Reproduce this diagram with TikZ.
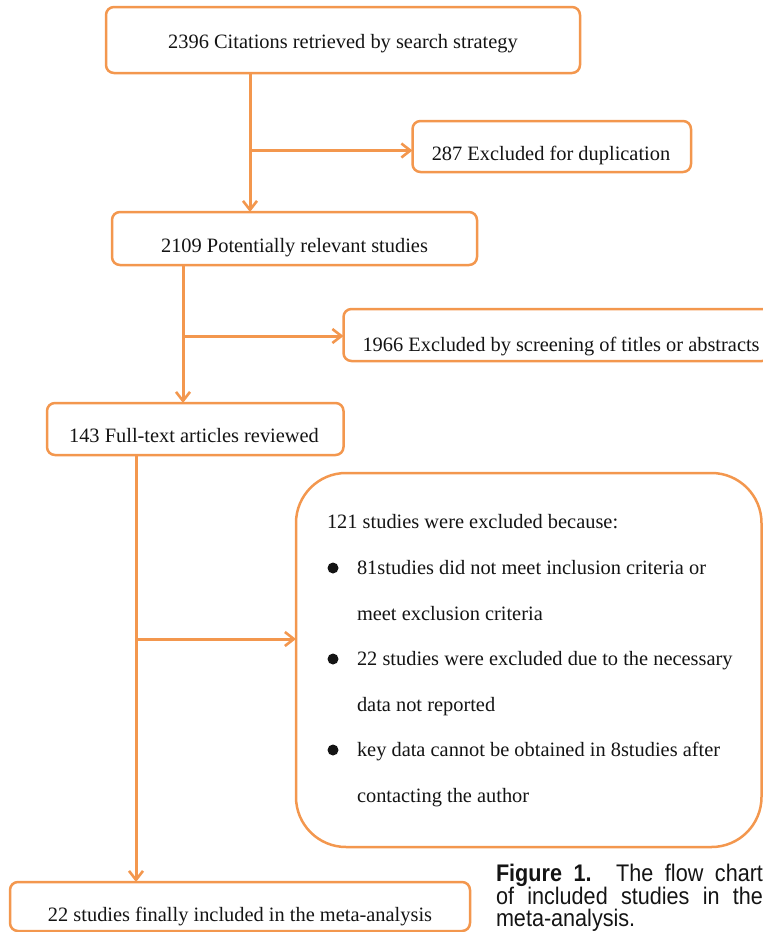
\documentclass[tikz,border=0pt]{standalone}
\usepackage{fontspec}
\setmainfont{Liberation Serif}
\newfontfamily\capfont[FakeStretch=0.9]{Liberation Sans}
\usetikzlibrary{arrows.meta}
\definecolor{org}{RGB}{243,151,78}
\definecolor{ink}{RGB}{20,20,20}
\tikzset{
  box/.style={draw=org, line width=2.5pt, rounded corners=8pt, inner sep=0pt, outer sep=0pt},
  lbl/.style={inner sep=0pt, outer sep=0pt, text=ink, font=\fontsize{20.4}{24}\selectfont},
  captxt/.style={inner sep=0pt, outer sep=0pt, text=ink, font=\capfont\fontsize{24}{24}\selectfont},
  conn/.style={draw=org, line width=3pt},
  arr/.style={conn, -{Straight Barb[length=9pt,width=14pt,line width=2.6pt]}},
  dot/.style={circle, fill=ink, inner sep=0pt, minimum size=11pt}
}
\begin{document}
\begin{tikzpicture}[x=1pt,y=-1pt]
\useasboundingbox (0,0) rectangle (763,932);
\clip (0,0) rectangle (763,932);
% boxes
\node[box, minimum width=474pt, minimum height=66pt] (b1) at (343,40) {};
\node[box, minimum width=278.5pt, minimum height=51pt] (b287) at (551.75,146.5) {};
\node[box, minimum width=365pt, minimum height=53pt] (b2) at (294.5,238.5) {};
\node[box, minimum width=426.5pt, minimum height=52pt] (b1966) at (556.75,335) {};
\node[box, minimum width=296.5pt, minimum height=52pt] (b3) at (195.25,429) {};
\node[box, rounded corners=50pt, minimum width=465.5pt, minimum height=374pt] (bbig) at (528.75,660) {};
\node[box, minimum width=460pt, minimum height=49pt] (b4) at (240,906.5) {};
% labels
\node[lbl, anchor=base] (t1) at (343,48) {2396 Citations retrieved by search strategy};
\node[lbl, anchor=base] (t287) at (551,160) {287 Excluded for duplication};
\node[lbl, anchor=base] (t2) at (294.5,252) {2109 Potentially relevant studies};
\node[lbl, anchor=base west] (t1966) at (362.5,351) {1966 Excluded by screening of titles or abstracts};
\node[lbl, anchor=base] (t3) at (194,442) {143 Full-text articles reviewed};
\node[lbl, anchor=base] (t4) at (240,921) {22 studies finally included in the meta-analysis};
\node[lbl, anchor=base west] (e0) at (327,528) {121 studies were excluded because:};
\node[dot] (d1) at (333,568) {};
\node[lbl, anchor=base west] (e1) at (357,574.5) {81studies did not meet inclusion criteria or};
\node[lbl, anchor=base west] (e2) at (357,620) {meet exclusion criteria};
\node[dot] (d2) at (333,659) {};
\node[lbl, anchor=base west] (e3) at (357,665.5) {22 studies were excluded due to the necessary};
\node[lbl, anchor=base west] (e4) at (357,711) {data not reported};
\node[dot] (d3) at (333,750) {};
\node[lbl, anchor=base west] (e5) at (357,756.5) {key data cannot be obtained in 8studies after};
\node[lbl, anchor=base west] (e6) at (357,802) {contacting the author};
% caption
\node[captxt, anchor=base west] (c1) at (496,881) {\makebox[267pt][s]{\textbf{Figure 1.} The flow chart}};
\node[captxt, anchor=base west] (c2) at (496,904) {\makebox[267pt][s]{of included studies in the}};
\node[captxt, anchor=base west] (c3) at (496,926) {meta-analysis.};
% connectors
\coordinate (v1) at (250,150.5);
\coordinate (v2) at (183,336);
\coordinate (v3) at (136,639);
\draw[arr] (b1.south -| v1) -- (b2.north -| v1);
\draw[arr] (v1) -- (b287.west |- v1);
\draw[arr] (b2.south -| v2) -- (b3.north -| v2);
\draw[arr] (v2) -- (b1966.west |- v2);
\draw[arr] (b3.south -| v3) -- (b4.north -| v3);
\draw[arr] (v3) -- (bbig.west |- v3);
\end{tikzpicture}
\end{document}
